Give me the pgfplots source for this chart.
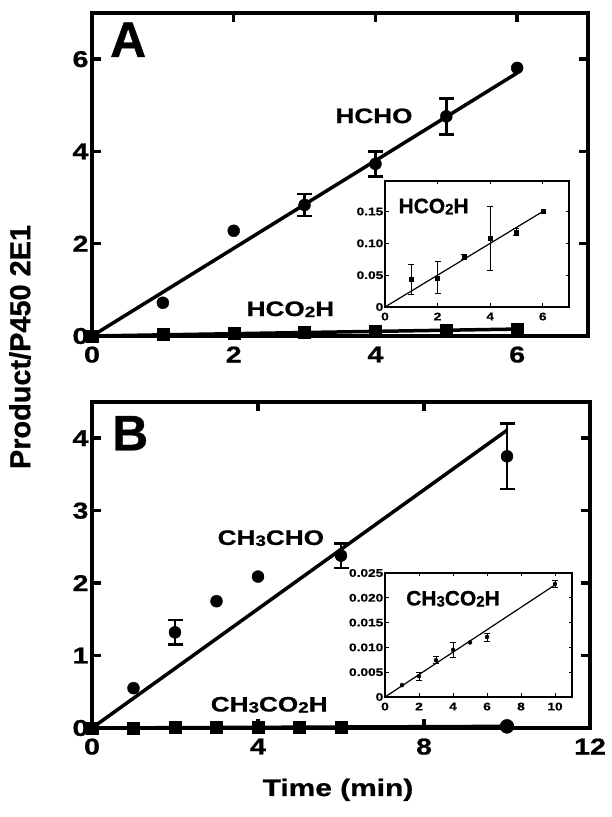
\documentclass[border=0pt]{standalone}
\usepackage{pgfplots}
\pgfplotsset{compat=1.18}
\usepackage{graphicx}
\usepackage{fontspec}
\setmainfont{Liberation Sans}[FakeBold=0.8]
\newfontfamily\wfont{Liberation Sans}[FakeStretch=1.25, FakeBold=0.8]
\newcommand{\sub}[1]{\raisebox{-0.05em}{\scalebox{0.72}{#1}}}

\pgfplotsset{
  mainax/.style={
    scale only axis, anchor=south west, clip=false,
    axis line style={line width=4bp},
    tick align=inside, major tick length=9bp,
    every tick/.style={black, line width=3.5bp},
    ticklabel style={font=\wfont\bfseries\fontsize{23}{23}\selectfont},
    xticklabel style={yshift=-7bp},
    /pgf/number format/assume math mode=true,
  },
  insetax/.style={
    scale only axis, anchor=south west, clip=false,
    axis background/.style={fill=white},
    axis line style={line width=1.3bp},
    tick align=inside, major tick length=3.5bp,
    every tick/.style={black, line width=0.8bp},
    ticklabel style={font=\wfont\bfseries\fontsize{11}{11}\selectfont, inner sep=1.5bp},
    xticklabel style={yshift=-4bp},
    /pgf/number format/assume math mode=true,
    scaled y ticks=false,
  },
  errbig/.style={error bars/.cd, y dir=both, y explicit,
    error bar style={line width=2.5bp},
    error mark options={rotate=90, mark size=7.5bp, line width=2.5bp}},
  errsmall/.style={error bars/.cd, y dir=both, y explicit,
    error bar style={line width=0.8bp},
    error mark options={rotate=90, mark size=3bp, line width=0.8bp}},
}

\begin{document}
\begin{tikzpicture}[x=1bp,y=1bp]
\useasboundingbox (0,0) rectangle (612,817);

% ---------- panel A ----------
\begin{axis}[mainax, at={(92bp,481bp)}, width=496bp, height=323bp,
  xmin=0, xmax=7, ymin=0, ymax=7,
  xtick={0,2,4,6}, ytick={0,2,4,6}]
\addplot[line width=3.5bp] coordinates {(0,0) (6,5.70)};
\addplot[only marks, mark=*, mark size=6bp] coordinates {(1,0.72) (2,2.28) (6,5.81)};
\addplot[only marks, mark=*, mark size=6bp, errbig] coordinates {
  (3,2.84) +- (0,0.24)
  (4,3.73) +- (0,0.27)
  (5,4.76) +- (0,0.39)};
% HCO2H
\addplot[line width=3.5bp] coordinates {(0,0) (6,0.15)};
\addplot[only marks, mark=square*, mark size=6bp] coordinates {
  (0,0) (1,0.04) (2,0.05) (3,0.08) (4,0.11) (5,0.12) (6,0.15)};
\node[font=\bfseries\fontsize{50}{50}\selectfont] at (axis cs:0.51,6.42) {A};
\node[font=\wfont\bfseries\fontsize{21}{21}\selectfont] at (axis cs:3.98,4.77) {HCHO};
\node[font=\wfont\bfseries\fontsize{21}{21}\selectfont] at (axis cs:2.80,0.58) {HCO\sub{2}H};
\end{axis}

% inset A
\begin{axis}[insetax, at={(385bp,510bp)}, width=184bp, height=126bp,
  xmin=0, xmax=7, ymin=0, ymax=0.198,
  xtick={0,2,4,6}, ytick={0,0.05,0.10,0.15},
  yticklabels={0,0.05,0.10,0.15}]
\addplot[line width=1.2bp] coordinates {(0,0) (6,0.150)};
\addplot[only marks, mark=square*, mark size=2bp, errsmall] coordinates {
  (1,0.043) +- (0,0.024)
  (2,0.046) +- (0,0.025)
  (3,0.078) +- (0,0.004)
  (4,0.108) +- (0,0.050)
  (5,0.118) +- (0,0.006)};
\addplot[only marks, mark=square*, mark size=2bp] coordinates {(6,0.150)};
\node[font=\bfseries\fontsize{21}{21}\selectfont] at (axis cs:1.85,0.158) {HCO\sub{2}H};
\end{axis}

% ---------- panel B ----------
\begin{axis}[mainax, at={(92bp,89bp)}, width=498bp, height=326bp,
  xmin=0, xmax=12, ymin=0, ymax=4.5,
  xtick={0,4,8,12}, ytick={0,1,2,3,4}]
\addplot[line width=3.5bp] coordinates {(0,0) (10,4.11)};
\addplot[only marks, mark=*, mark size=6bp] coordinates {(1,0.55) (3,1.75) (4,2.09)};
\addplot[only marks, mark=*, mark size=6bp, errbig] coordinates {
  (2,1.32) +- (0,0.17)
  (6,2.38) +- (0,0.17)
  (10,3.75) +- (0,0.45)};
% CH3CO2H
\addplot[line width=3.5bp] coordinates {(0,0) (10,0.0226)};
\addplot[only marks, mark=square*, mark size=6bp] coordinates {
  (0,0) (1,0.0024) (2,0.0043) (3,0.0073) (4,0.0095) (5,0.011) (6,0.012)};
\addplot[only marks, mark=*, mark size=7bp] coordinates {(10,0.0227)};
\node[font=\bfseries\fontsize{50}{50}\selectfont] at (axis cs:0.92,4.07) {B};
\node[font=\wfont\bfseries\fontsize{21}{21}\selectfont] at (axis cs:4.31,2.62) {CH\sub{3}CHO};
\node[font=\wfont\bfseries\fontsize{21}{21}\selectfont] at (axis cs:4.27,0.32) {CH\sub{3}CO\sub{2}H};
\end{axis}

% inset B
\begin{axis}[insetax, at={(385bp,120bp)}, width=187bp, height=124bp,
  xmin=0, xmax=11, ymin=0, ymax=0.025,
  xtick={0,2,4,6,8,10}, ytick={0,0.005,0.010,0.015,0.020,0.025},
  yticklabels={0,0.005,0.010,0.015,0.020,0.025}]
\addplot[line width=1.2bp] coordinates {(0,0) (10,0.0226)};
\addplot[only marks, mark=*, mark size=2bp, errsmall] coordinates {
  (2,0.0042) +- (0,0.0008)
  (3,0.0074) +- (0,0.0007)
  (4,0.0095) +- (0,0.0015)
  (6,0.0121) +- (0,0.0008)
  (10,0.0228) +- (0,0.0007)};
\addplot[only marks, mark=*, mark size=2bp] coordinates {(1,0.0024) (5,0.011)};
\node[font=\bfseries\fontsize{21}{21}\selectfont] at (axis cs:4.0,0.0198) {CH\sub{3}CO\sub{2}H};
\end{axis}

% axis titles
\node[rotate=90, font=\bfseries\fontsize{29}{29}\selectfont] at (20,470) {Product/P450 2E1};
\node[anchor=base, font=\wfont\bfseries\fontsize{24}{24}\selectfont] at (338,21) {Time (min)};
\end{tikzpicture}
\end{document}
